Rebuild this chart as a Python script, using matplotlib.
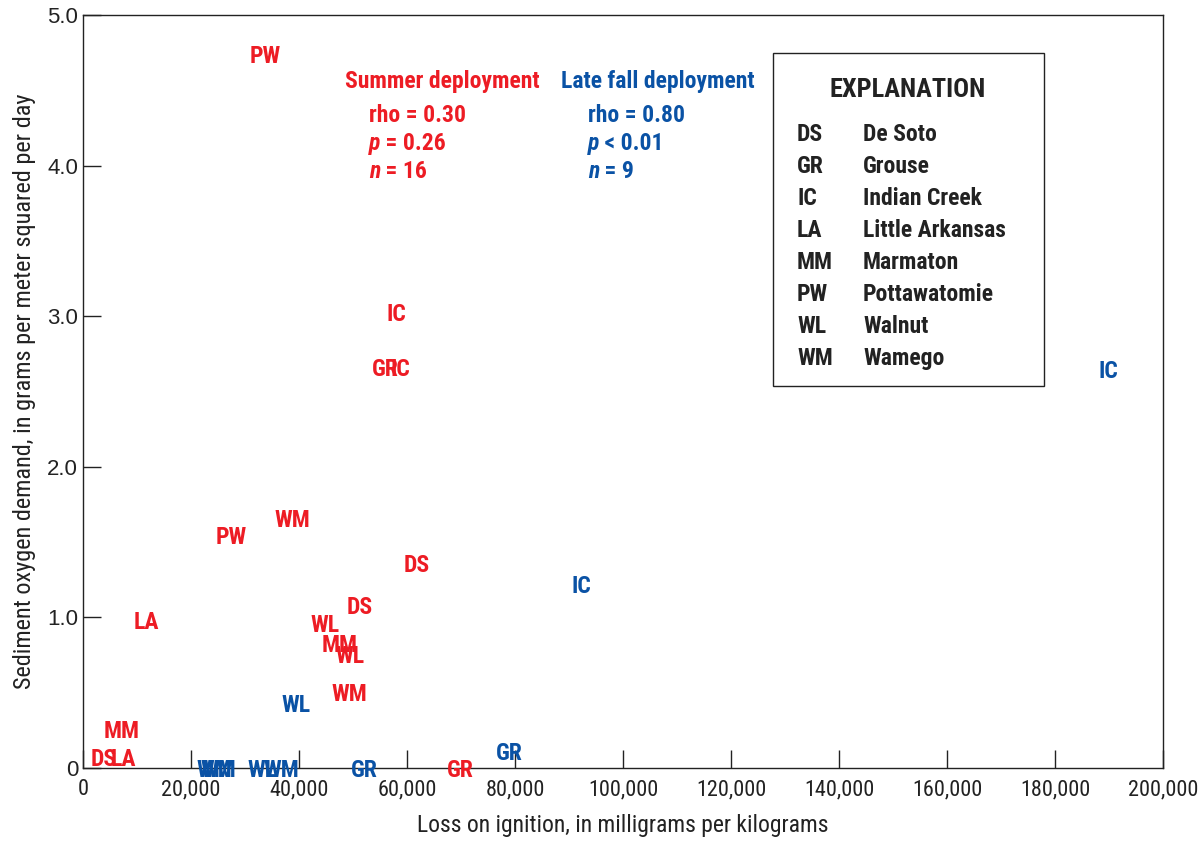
import matplotlib
matplotlib.use("Agg")
import matplotlib.pyplot as plt
from matplotlib.patches import Rectangle
from matplotlib.ticker import FuncFormatter

RED = "#ED1C24"
BLUE = "#0A52A5"
NARROW = ["Liberation Sans Narrow", "Roboto Condensed", "DejaVu Sans"]
FS = 17
VA = "center_baseline"

# summer deployment: site code, loss on ignition (mg/kg), SOD (g/m2/d)
summer_site = ["PW", "IC", "GR", "IC", "WM", "PW", "DS", "DS", "LA",
               "WL", "MM", "WL", "WM", "MM", "DS", "LA", "GR"]
summer_loi = [33700, 57960, 55900, 58700, 38700, 27400, 61850, 51300, 11670,
              44800, 47600, 49450, 49250, 7220, 3900, 7400, 69800]
summer_sod = [4.74, 3.03, 2.66, 2.66, 1.66, 1.55, 1.36, 1.08, 0.98,
              0.96, 0.83, 0.76, 0.505, 0.26, 0.07, 0.07, 0.0]

# late fall deployment
fall_site = ["IC", "IC", "WL", "GR", "GR", "WM", "WM", "WL", "WM"]
fall_loi = [189800, 92200, 39450, 78900, 52050, 24250, 25000, 33150, 36650]
fall_sod = [2.65, 1.22, 0.43, 0.11, 0.0, 0.0, 0.0, 0.0, 0.0]

codes = ["DS", "GR", "IC", "LA", "MM", "PW", "WL", "WM"]
names = ["De Soto", "Grouse", "Indian Creek", "Little Arkansas", "Marmaton",
         "Pottawatomie", "Walnut", "Wamego"]

fig = plt.figure(figsize=(12.01, 8.46), dpi=100)
ax = fig.add_axes([0.0691, 0.0922, 0.8993, 0.8901])
ax.set_xlim(0, 200000)
ax.set_ylim(0, 5.0)

for s, x, y in zip(summer_site, summer_loi, summer_sod):
    ax.text(x, y, s, color=RED, fontsize=FS, fontweight="bold", family=NARROW,
            ha="center", va=VA)
for s, x, y in zip(fall_site, fall_loi, fall_sod):
    ax.text(x, y, s, color=BLUE, fontsize=FS, fontweight="bold", family=NARROW,
            ha="center", va=VA)

ax.set_xticks(range(0, 200001, 20000))
ax.set_yticks([0, 1, 2, 3, 4, 5])
ax.xaxis.set_major_formatter(FuncFormatter(lambda v, p: "0" if v == 0 else f"{int(v):,}"))
ax.yaxis.set_major_formatter(FuncFormatter(lambda v, p: "0" if v == 0 else f"{v:.1f}"))
ax.tick_params(direction="in", length=13, width=1, colors="#222222", labelsize=15)
ax.tick_params(axis="x", pad=8)
for lbl in ax.get_xticklabels():
    lbl.set_family(NARROW)
    lbl.set_fontsize(16)
for lbl in ax.get_yticklabels():
    lbl.set_family(["Liberation Sans", "DejaVu Sans"])
    lbl.set_fontsize(16)
for sp in ax.spines.values():
    sp.set_color("#222222")
    sp.set_linewidth(1.0)

ax.set_xlabel("Loss on ignition, in milligrams per kilograms", fontsize=FS,
              family=NARROW, color="#222222", labelpad=10)
ax.set_ylabel("Sediment oxygen demand, in grams per meter squared per day",
              fontsize=17.5, family=NARROW, color="#222222", labelpad=8)


def stat_line(x, y, var, rest, color):
    t = ax.text(x, y, var, transform=ax.transAxes, color=color, fontsize=FS,
                fontweight="bold", fontstyle="italic", family=NARROW,
                ha="left", va="baseline")
    ax.annotate(rest, xy=(1, 0), xycoords=t, color=color, fontsize=FS,
                fontweight="bold", family=NARROW, ha="left", va="bottom")


# correlation summaries
for x0, x1, title, rho, pv, n, color in [
        (0.2426, 0.2648, "Summer deployment", "rho = 0.30", " = 0.26", " = 16", RED),
        (0.4426, 0.4676, "Late fall deployment", "rho = 0.80", " < 0.01", " = 9", BLUE)]:
    ax.text(x0, 0.915, title, transform=ax.transAxes, color=color, fontsize=FS,
            fontweight="bold", family=NARROW, ha="left", va=VA)
    ax.text(x1, 0.870, rho, transform=ax.transAxes, color=color, fontsize=FS,
            fontweight="bold", family=NARROW, ha="left", va=VA)
    stat_line(x1, 0.821, "p", pv, color)
    stat_line(x1, 0.783, "n", n, color)

# explanation box
ax.add_patch(Rectangle((0.6389, 0.5073), 0.2509, 0.4422, transform=ax.transAxes,
                       fill=False, edgecolor="#222222", linewidth=1.0))
ax.text(0.7639, 0.9043, "EXPLANATION", transform=ax.transAxes, fontsize=19,
        fontweight="bold", family=NARROW, color="#222222", ha="center", va=VA)
for i, (c, nm) in enumerate(zip(codes, names)):
    y = 0.8446 - i * 0.0425
    ax.text(0.6611, y, c, transform=ax.transAxes, fontsize=FS, fontweight="bold",
            family=NARROW, color="#222222", ha="left", va=VA)
    ax.text(0.7222, y, nm, transform=ax.transAxes, fontsize=FS, fontweight="bold",
            family=NARROW, color="#222222", ha="left", va=VA)

fig.savefig("out.png", dpi=100)
